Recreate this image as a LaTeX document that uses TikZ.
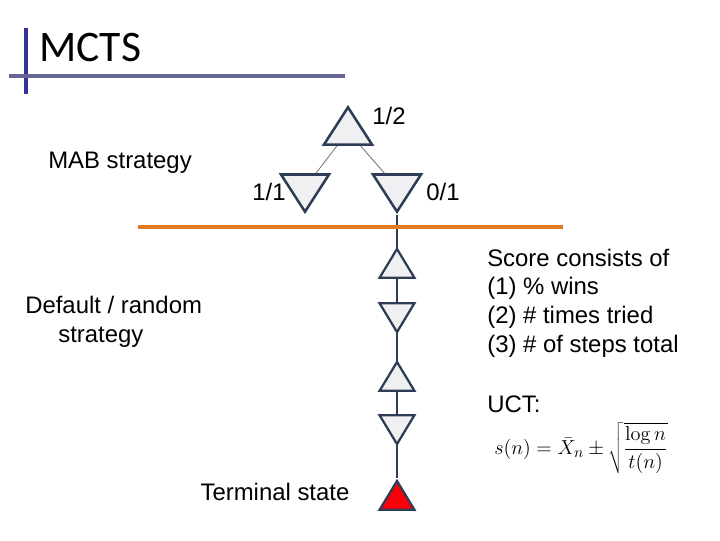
\documentclass[tikz,border=0pt]{standalone}
\usepackage[no-math]{fontspec}
\setmainfont{Liberation Sans}
\newfontfamily\titlefont{Carlito}
\usetikzlibrary{shapes.geometric, backgrounds}

\definecolor{triedge}{RGB}{46,60,86}
\definecolor{trifill}{RGB}{240,240,242}
\definecolor{titleline}{RGB}{102,102,153}
\definecolor{titlebar}{RGB}{51,51,153}
\definecolor{cutline}{RGB}{226,122,32}
\definecolor{termred}{RGB}{250,0,10}

\begin{document}
\begin{tikzpicture}[
    x=0.025cm, y=0.025cm,
    bigtri/.style={
        isosceles triangle, isosceles triangle stretches,
        draw=triedge, line width=1.8pt, fill=trifill,
        inner sep=0pt, anchor=apex,
        minimum width=1.2cm, minimum height=0.93cm
    },
    smalltri/.style={
        isosceles triangle, isosceles triangle stretches,
        draw=triedge, line width=1.6pt, fill=trifill,
        inner sep=0pt, anchor=apex,
        minimum width=0.87cm, minimum height=0.72cm
    },
    pointup/.style={shape border rotate=90},
    pointdown/.style={shape border rotate=270},
    lbl/.style={inner sep=0pt, font=\fontsize{17}{20.4}\selectfont},
    edge/.style={draw=black!55, line width=0.6pt},
    chain/.style={draw=triedge, line width=0.8pt},
]
\useasboundingbox (0,0) rectangle (720,-540);

% Title
\draw[titlebar, line width=3pt] (26,-28) -- (26,-94);
\draw[titleline, line width=3pt] (9,-76) -- (345,-76);
\node[anchor=west, inner sep=0pt, font=\titlefont\fontsize{31}{36}\selectfont] (title) at (39,-48) {MCTS};

% ============ Tree part (MAB) ============
\node[bigtri, pointup] (root) at (348,-104) {};
\node[bigtri, pointdown] (lc) at (305,-215) {};
\node[bigtri, pointdown] (rc) at (397,-215) {};

\draw[edge] (root) -- (lc);
\draw[edge] (root) -- (rc);

\node[lbl] (rootlbl) at (389,-116) {1/2};
\node[lbl] (lclbl) at (269,-192) {1/1};
\node[lbl] (rclbl) at (443,-192) {0/1};
\node[lbl] (mab) at (120,-163) {MAB strategy};

% cut between tree and rollout
\draw[cutline, line width=2.8pt] (138,-227) -- (563,-227);

% ============ Rollout (default policy) ============
\node[smalltri, pointup] (s1) at (397,-246) {};
\node[smalltri, pointdown] (s2) at (397,-335) {};
\node[smalltri, pointup] (s3) at (397,-359) {};
\node[smalltri, pointdown] (s4) at (397,-447) {};
\node[smalltri, pointup, fill=termred] (term) at (397,-478) {};

\begin{scope}[on background layer]
\draw[chain] (rc.apex) -- (term.apex);
\end{scope}

\node[lbl, align=left, anchor=west] (default) at (25,-322) {Default / random\\\hspace*{23.5pt}strategy};
\node[lbl] (termlbl) at (275,-492) {Terminal state};

% ============ Score text ============
\node[lbl, align=left, anchor=west] (score) at (487,-303) {Score consists of\\(1) \% wins\\(2) \# times tried\\(3) \# of steps total};
\node[lbl, anchor=west] (uct) at (487,-404) {UCT:};
\node[inner sep=0pt, font=\fontsize{15}{18}\selectfont] (ucteq) at (581,-448)
    {$\displaystyle s(n) = \bar{X}_n \pm \sqrt{\frac{\log n}{t(n)}}$};

\end{tikzpicture}
\end{document}
